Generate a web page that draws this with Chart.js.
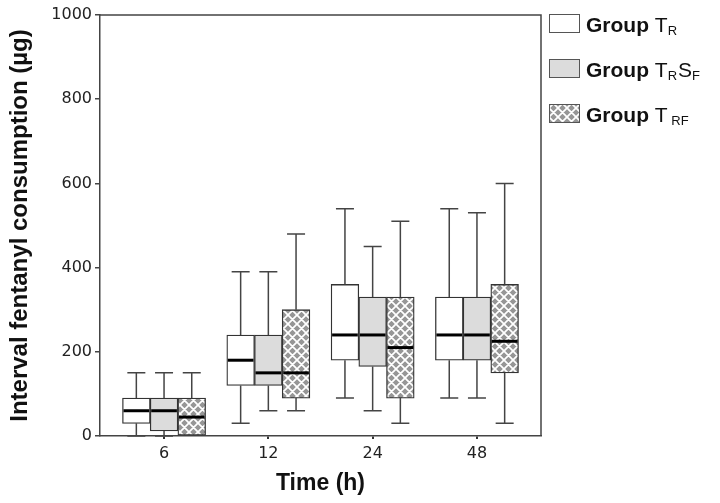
<!DOCTYPE html>
<html><head><meta charset="utf-8">
<script src="https://cdn.jsdelivr.net/npm/chart.js@4"></script>
<style>html,body{margin:0;padding:0;background:#fff}canvas{display:block}</style>
</head><body>
<canvas id="c" width="720" height="503"></canvas>
<script>
// ---- data ----
const categories = ['6', '12', '24', '48'];
const groupNames = ['Group TR', 'Group TRSF', 'Group TRF'];
// Group T_R
const trMin = [0, 30, 90, 90];
const trQ1  = [30, 120, 180, 180];
const trMed = [60, 180, 240, 240];
const trQ3  = [90, 240, 360, 330];
const trMax = [150, 390, 540, 540];
// Group T_R S_F
const trsfMin = [0, 60, 60, 90];
const trsfQ1  = [12, 120, 165, 180];
const trsfMed = [60, 150, 240, 240];
const trsfQ3  = [90, 240, 330, 330];
const trsfMax = [150, 390, 450, 530];
// Group T_RF
const trfMin = [0, 60, 30, 30];
const trfQ1  = [0, 90, 90, 150];
const trfMed = [45, 150, 210, 225];
const trfQ3  = [90, 300, 330, 360];
const trfMax = [150, 480, 510, 600];
const yTicks = [0, 200, 400, 600, 800, 1000];

const stats = [
  {min: trMin, q1: trQ1, med: trMed, q3: trQ3, max: trMax},
  {min: trsfMin, q1: trsfQ1, med: trsfMed, q3: trsfQ3, max: trsfMax},
  {min: trfMin, q1: trfQ1, med: trfMed, q3: trfQ3, max: trfMax}
];

const canvas = document.getElementById('c');
const ctx0 = canvas.getContext('2d');
function makePattern() {
  const n = 9;
  const p = document.createElement('canvas'); p.width = n; p.height = n;
  const g = p.getContext('2d');
  g.fillStyle = '#969696'; g.fillRect(0, 0, n, n);
  g.strokeStyle = '#ffffff'; g.lineWidth = 1.7;
  g.beginPath();
  for (const o of [-n, 0, n]) {
    g.moveTo(o - 1, -1); g.lineTo(o + n + 1, n + 1);
    g.moveTo(o + n + 1, -1); g.lineTo(o - 1, n + 1);
  }
  g.stroke();
  return ctx0.createPattern(p, 'repeat');
}
const hatch = makePattern();
const fills = ['#ffffff', '#dcdcdc', hatch];

const datasets = stats.map((s, di) => ({
  label: groupNames[di],
  data: categories.map((c, i) => ({x: i, y: [s.q1[i], s.q3[i]]})),
  backgroundColor: fills[di],
  borderColor: '#333',
  borderWidth: 1.3,
  borderSkipped: false,
  barThickness: 27.7
}));

const legendParts = [
  [{t: 'Group ', k: 'b'}, {t: 'T', k: 'n'}, {t: 'R', k: 's'}],
  [{t: 'Group ', k: 'b'}, {t: 'T', k: 'n'}, {t: 'R', k: 's'}, {t: 'S', k: 'n'}, {t: 'F', k: 's'}],
  [{t: 'Group ', k: 'b'}, {t: 'T', k: 'n'}, {t: ' RF', k: 's'}]
];

const boxPlugin = {
  id: 'boxes',
  afterDatasetsDraw(chart) {
    const ctx = chart.ctx, ys = chart.scales.y;
    chart.data.datasets.forEach((ds, di) => {
      const meta = chart.getDatasetMeta(di);
      const s = stats[di];
      meta.data.forEach((bar, i) => {
        const x = bar.x, w = bar.width, cw = w * 0.65;
        const pMin = ys.getPixelForValue(s.min[i]);
        const pQ1 = ys.getPixelForValue(s.q1[i]);
        const pMed = ys.getPixelForValue(s.med[i]);
        const pQ3 = ys.getPixelForValue(s.q3[i]);
        const pMax = ys.getPixelForValue(s.max[i]);
        ctx.save();
        ctx.strokeStyle = '#444'; ctx.lineWidth = 1.5; ctx.lineCap = 'butt';
        ctx.beginPath();
        if (s.max[i] > s.q3[i]) {
          ctx.moveTo(x, pQ3); ctx.lineTo(x, pMax);
          ctx.moveTo(x - cw / 2, pMax); ctx.lineTo(x + cw / 2, pMax);
        }
        if (s.min[i] < s.q1[i]) {
          ctx.moveTo(x, pQ1); ctx.lineTo(x, pMin);
          ctx.moveTo(x - cw / 2, pMin); ctx.lineTo(x + cw / 2, pMin);
        }
        ctx.stroke();
        ctx.strokeStyle = '#000'; ctx.lineWidth = 3;
        ctx.beginPath();
        ctx.moveTo(x - w / 2 + 1, pMed); ctx.lineTo(x + w / 2 - 1, pMed);
        ctx.stroke();
        ctx.restore();
      });
    });
  },
  afterDraw(chart) {
    const ctx = chart.ctx, a = chart.chartArea;
    ctx.save();
    ctx.strokeStyle = '#444'; ctx.lineWidth = 1.5;
    ctx.beginPath();
    ctx.moveTo(a.left, a.top); ctx.lineTo(a.right, a.top); ctx.lineTo(a.right, a.bottom);
    ctx.stroke();
    // legend
    const sx = a.right + 8, sw = 31, sh = 19;
    legendParts.forEach((parts, k) => {
      const top = a.top - 1 + k * 45;
      ctx.fillStyle = fills[k];
      ctx.fillRect(sx, top, sw, sh);
      ctx.strokeStyle = '#555'; ctx.lineWidth = 1;
      ctx.strokeRect(sx + 0.5, top + 0.5, sw - 1, sh - 1);
      let tx = sx + sw + 6;
      const base = top + sh - 1;
      ctx.fillStyle = '#111';
      ctx.textBaseline = 'alphabetic'; ctx.textAlign = 'left';
      parts.forEach(p => {
        if (p.k === 'b') ctx.font = 'bold 21px "Liberation Sans", Arial, sans-serif';
        else if (p.k === 'n') ctx.font = '21px "Liberation Sans", Arial, sans-serif';
        else ctx.font = '13px "Liberation Sans", Arial, sans-serif';
        const dy = p.k === 's' ? 3 : 0;
        ctx.fillText(p.t, tx, base + dy);
        tx += ctx.measureText(p.t).width + (p.k === 's' ? 1 : 0);
      });
    });
    ctx.restore();
  }
};

new Chart(canvas, {
  type: 'bar',
  data: {datasets},
  options: {
    responsive: false,
    animation: false,
    layout: {padding: {top: 15, right: 179, left: 0, bottom: 0}},
    plugins: {legend: {display: false}, tooltip: {enabled: false}},
    scales: {
      x: {
        type: 'linear', min: -0.614, max: 3.614, offset: false,
        afterBuildTicks: s => { s.ticks = categories.map((c, i) => ({value: i})); },
        ticks: {callback: v => categories[v], font: {family: 'DejaVu Sans', size: 16}, color: '#222', padding: 5, autoSkip: false, maxRotation: 0, includeBounds: false},
        grid: {drawOnChartArea: false, offset: false, tickLength: 3, color: '#333', lineWidth: 2},
        border: {color: '#444', width: 1.5},
        title: {display: true, text: 'Time (h)', font: {family: 'Liberation Sans', weight: 'bold', size: 23}, color: '#111', padding: {top: 0, bottom: 6}},
        afterFit: s => { s.height = 67; }
      },
      y: {
        min: 0, max: 1000,
        afterBuildTicks: s => { s.ticks = yTicks.map(v => ({value: v})); },
        ticks: {callback: v => String(v), font: {family: 'DejaVu Sans', size: 16}, color: '#222', padding: 3},
        grid: {drawOnChartArea: false, tickLength: 5, color: '#444', lineWidth: 1.5},
        border: {color: '#444', width: 1.5},
        title: {display: true, text: 'Interval fentanyl consumption (µg)', font: {family: 'Liberation Sans', weight: 'bold', size: 24}, color: '#111', padding: {top: 6, bottom: 0}},
        afterFit: s => { s.width = 100; }
      }
    }
  },
  plugins: [boxPlugin]
});
</script>
</body></html>
